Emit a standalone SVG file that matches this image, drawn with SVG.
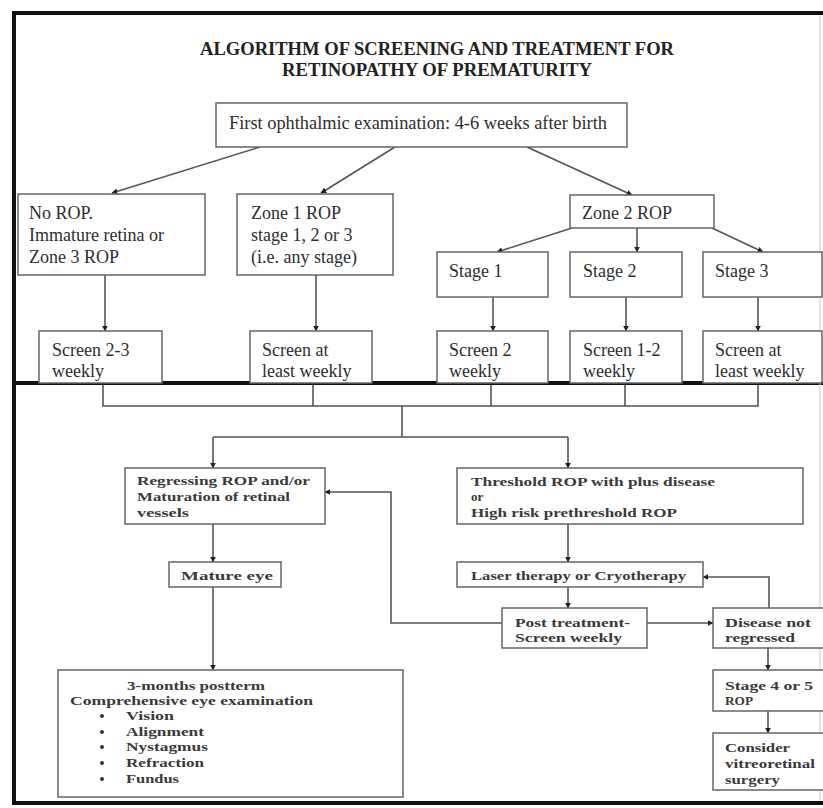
<svg xmlns="http://www.w3.org/2000/svg" width="823" height="808" viewBox="0 0 823 808">
<style>
.box{fill:#fff;stroke:#666;stroke-width:1.5}
.t{font-family:"Liberation Serif","Times New Roman",serif;font-size:18px;fill:#2e2e2e}
.b{font-family:"Liberation Serif","Times New Roman",serif;font-size:13px;font-weight:bold;fill:#3a3a3a}
.title{font-family:"Liberation Serif","Times New Roman",serif;font-size:18px;font-weight:bold;fill:#222}
.c{fill:none;stroke:#555;stroke-width:1.6}
.frame{stroke:#111;stroke-width:4;fill:none}
</style>
<defs>
<marker id="ah" viewBox="0 0 10 10" refX="9" refY="5" markerWidth="6" markerHeight="6" orient="auto" markerUnits="userSpaceOnUse">
<path d="M0,0 L10,5 L0,10 z" fill="#222"/>
</marker>
</defs>
<rect width="823" height="808" fill="#fff"/>
<g id="frame">
<line class="frame" x1="12" y1="13" x2="823" y2="13"/>
<line class="frame" x1="14" y1="11" x2="14" y2="805"/>
<line class="frame" x1="12" y1="803" x2="823" y2="803"/>
<line class="frame" x1="14" y1="383" x2="823" y2="383"/>
<line x1="820" y1="15" x2="820" y2="801" stroke="#ccc" stroke-width="1"/>
</g>
<g id="title">
<text class="title" x="200" y="55" textLength="474" lengthAdjust="spacingAndGlyphs">ALGORITHM OF SCREENING AND TREATMENT FOR</text>
<text class="title" x="282" y="76" textLength="310" lengthAdjust="spacingAndGlyphs">RETINOPATHY OF PREMATURITY</text>
</g>
<g id="connectors">
<line class="c" x1="260" y1="147" x2="112" y2="193" marker-end="url(#ah)"/>
<line class="c" x1="395" y1="147" x2="321" y2="193" marker-end="url(#ah)"/>
<line class="c" x1="527" y1="147" x2="632" y2="195" marker-end="url(#ah)"/>
<line class="c" x1="105" y1="275" x2="105" y2="331" marker-end="url(#ah)"/>
<line class="c" x1="316" y1="275" x2="316" y2="331" marker-end="url(#ah)"/>
<line class="c" x1="572" y1="228" x2="497" y2="252" marker-end="url(#ah)"/>
<line class="c" x1="637" y1="228" x2="637" y2="252" marker-end="url(#ah)"/>
<line class="c" x1="712" y1="228" x2="763" y2="252" marker-end="url(#ah)"/>
<line class="c" x1="493" y1="297" x2="493" y2="331" marker-end="url(#ah)"/>
<line class="c" x1="626" y1="297" x2="626" y2="331" marker-end="url(#ah)"/>
<line class="c" x1="758" y1="297" x2="758" y2="331" marker-end="url(#ah)"/>
<path class="c" d="M103,385 V406 H758 V385 M313,385 V406 M491,385 V406 M625,385 V406 M402,406 V437 M213,437 H568"/>
<line class="c" x1="213" y1="437" x2="213" y2="468" marker-end="url(#ah)"/>
<line class="c" x1="568" y1="437" x2="568" y2="468" marker-end="url(#ah)"/>
<line class="c" x1="213" y1="524" x2="213" y2="562" marker-end="url(#ah)"/>
<line class="c" x1="213" y1="587" x2="213" y2="670" marker-end="url(#ah)"/>
<line class="c" x1="568" y1="524" x2="568" y2="562" marker-end="url(#ah)"/>
<line class="c" x1="568" y1="587" x2="568" y2="608" marker-end="url(#ah)"/>
<polyline class="c" points="502,623 391,623 391,492 325,492" marker-end="url(#ah)"/>
<line class="c" x1="647" y1="623" x2="713" y2="623" marker-end="url(#ah)"/>
<polyline class="c" points="769,608 769,577 703,577" marker-end="url(#ah)"/>
<line class="c" x1="768" y1="648" x2="768" y2="670" marker-end="url(#ah)"/>
<line class="c" x1="768" y1="711" x2="768" y2="733" marker-end="url(#ah)"/>
</g>
<g id="first">
<rect class="box" x="216" y="103" width="411" height="44"/>
<text class="t" x="229" y="129" textLength="378" lengthAdjust="spacingAndGlyphs">First ophthalmic examination: 4-6 weeks after birth</text>
</g>
<g id="norop">
<rect class="box" x="18" y="194" width="187" height="81"/>
<text class="t" x="29" y="219">No ROP.</text>
<text class="t" x="29" y="241">Immature retina or</text>
<text class="t" x="29" y="263">Zone 3 ROP</text>
</g>
<g id="zone1">
<rect class="box" x="237" y="194" width="156" height="81"/>
<text class="t" x="251" y="219">Zone 1 ROP</text>
<text class="t" x="251" y="241">stage 1, 2 or 3</text>
<text class="t" x="251" y="263">(i.e. any stage)</text>
</g>
<g id="zone2">
<rect class="box" x="570" y="195" width="144" height="33"/>
<text class="t" x="582" y="219">Zone 2 ROP</text>
</g>
<g id="stage1">
<rect class="box" x="437" y="252" width="111" height="45"/>
<text class="t" x="449" y="277">Stage 1</text>
</g>
<g id="stage2">
<rect class="box" x="570" y="252" width="112" height="45"/>
<text class="t" x="583" y="277">Stage 2</text>
</g>
<g id="stage3">
<rect class="box" x="703" y="252" width="119" height="45"/>
<text class="t" x="715" y="277">Stage 3</text>
</g>
<g id="screen23">
<rect class="box" x="39" y="331" width="123" height="52"/>
<text class="t" x="52" y="356">Screen 2-3</text>
<text class="t" x="52" y="377">weekly</text>
</g>
<g id="screenz1">
<rect class="box" x="250" y="331" width="122" height="52"/>
<text class="t" x="262" y="356">Screen at</text>
<text class="t" x="262" y="377">least weekly</text>
</g>
<g id="screen2">
<rect class="box" x="437" y="331" width="111" height="52"/>
<text class="t" x="449" y="356">Screen 2</text>
<text class="t" x="449" y="377">weekly</text>
</g>
<g id="screen12">
<rect class="box" x="570" y="331" width="112" height="52"/>
<text class="t" x="583" y="356">Screen 1-2</text>
<text class="t" x="583" y="377">weekly</text>
</g>
<g id="screens3">
<rect class="box" x="703" y="331" width="119" height="52"/>
<text class="t" x="715" y="356">Screen at</text>
<text class="t" x="715" y="377">least weekly</text>
</g>
<g id="regressing">
<rect class="box" x="125" y="468" width="200" height="56"/>
<text class="b" x="137" y="485" textLength="173" lengthAdjust="spacingAndGlyphs">Regressing ROP and/or</text>
<text class="b" x="137" y="501" textLength="153" lengthAdjust="spacingAndGlyphs">Maturation of retinal</text>
<text class="b" x="137" y="517" textLength="52" lengthAdjust="spacingAndGlyphs">vessels</text>
</g>
<g id="mature">
<rect class="box" x="169" y="562" width="112" height="25"/>
<text class="b" x="181" y="580" textLength="92" lengthAdjust="spacingAndGlyphs">Mature eye</text>
</g>
<g id="postterm">
<rect class="box" x="58" y="670" width="345" height="127"/>
<text class="b" x="127" y="690" textLength="138" lengthAdjust="spacingAndGlyphs">3-months postterm</text>
<text class="b" x="70" y="705" textLength="243" lengthAdjust="spacingAndGlyphs">Comprehensive eye examination</text>
<g fill="#333">
<circle cx="102" cy="716" r="2"/>
<circle cx="102" cy="732" r="2"/>
<circle cx="102" cy="747" r="2"/>
<circle cx="102" cy="763" r="2"/>
<circle cx="102" cy="779" r="2"/>
</g>
<text class="b" x="126" y="720" textLength="48" lengthAdjust="spacingAndGlyphs">Vision</text>
<text class="b" x="126" y="736" textLength="78" lengthAdjust="spacingAndGlyphs">Alignment</text>
<text class="b" x="126" y="751" textLength="82" lengthAdjust="spacingAndGlyphs">Nystagmus</text>
<text class="b" x="126" y="767" textLength="78" lengthAdjust="spacingAndGlyphs">Refraction</text>
<text class="b" x="126" y="783" textLength="53" lengthAdjust="spacingAndGlyphs">Fundus</text>
</g>
<g id="threshold">
<rect class="box" x="457" y="468" width="346" height="56"/>
<text class="b" x="471" y="486" textLength="244" lengthAdjust="spacingAndGlyphs">Threshold ROP with plus disease</text>
<text class="b" x="471" y="501">or</text>
<text class="b" x="471" y="517" textLength="206" lengthAdjust="spacingAndGlyphs">High risk prethreshold ROP</text>
</g>
<g id="laser">
<rect class="box" x="457" y="562" width="246" height="25"/>
<text class="b" x="471" y="580" textLength="215" lengthAdjust="spacingAndGlyphs">Laser therapy or Cryotherapy</text>
</g>
<g id="posttreatment">
<rect class="box" x="502" y="608" width="145" height="40"/>
<text class="b" x="515" y="627" textLength="115" lengthAdjust="spacingAndGlyphs">Post treatment-</text>
<text class="b" x="515" y="642" textLength="107" lengthAdjust="spacingAndGlyphs">Screen weekly</text>
</g>
<g id="notregressed">
<rect class="box" x="713" y="608" width="112" height="40"/>
<text class="b" x="725" y="627" textLength="86" lengthAdjust="spacingAndGlyphs">Disease not</text>
<text class="b" x="725" y="642" textLength="70" lengthAdjust="spacingAndGlyphs">regressed</text>
</g>
<g id="stage45">
<rect class="box" x="713" y="670" width="112" height="41"/>
<text class="b" x="725" y="690" textLength="88" lengthAdjust="spacingAndGlyphs">Stage 4 or 5</text>
<text class="b" x="725" y="705" textLength="28" lengthAdjust="spacingAndGlyphs">ROP</text>
</g>
<g id="vitreo">
<rect class="box" x="713" y="733" width="112" height="57"/>
<text class="b" x="725" y="752" textLength="65" lengthAdjust="spacingAndGlyphs">Consider</text>
<text class="b" x="725" y="768" textLength="90" lengthAdjust="spacingAndGlyphs">vitreoretinal</text>
<text class="b" x="725" y="784" textLength="55" lengthAdjust="spacingAndGlyphs">surgery</text>
</g>
</svg>
